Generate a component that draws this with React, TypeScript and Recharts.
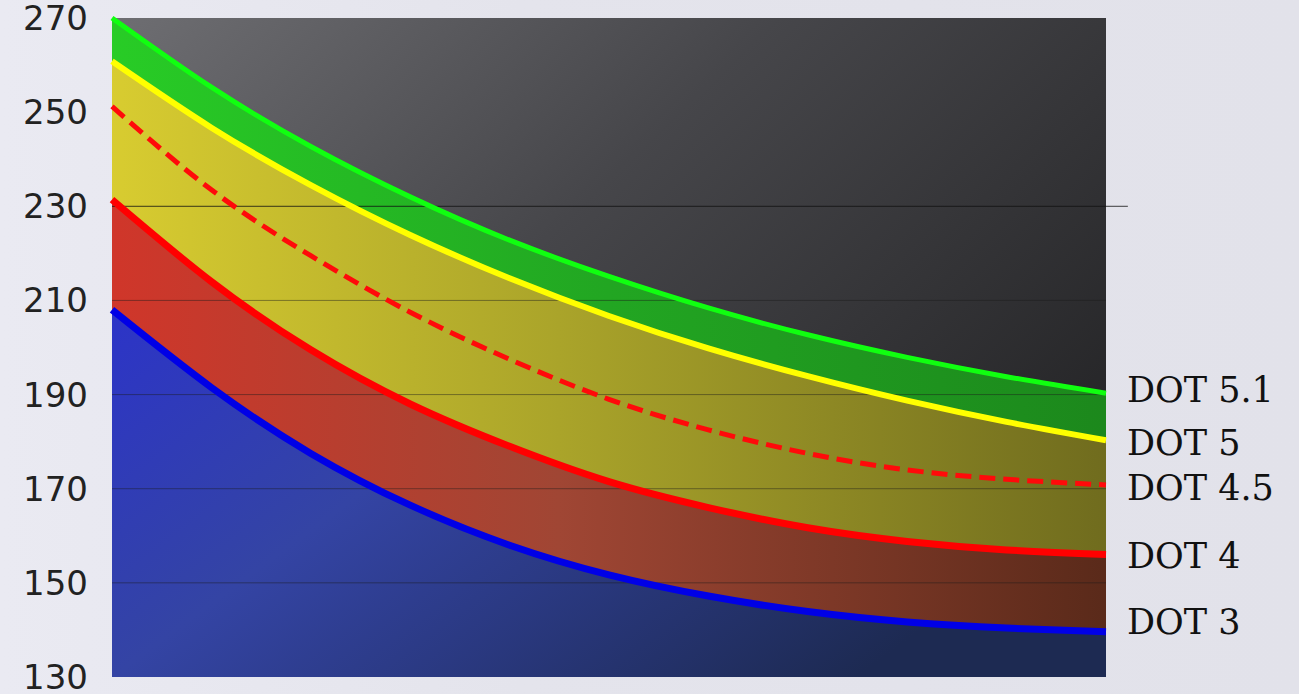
import React from "react";
import {
  ComposedChart,
  Area,
  Line,
  XAxis,
  YAxis,
  CartesianGrid,
  ReferenceLine,
} from "recharts";

const xs = [0, 1, 2, 3, 4, 5, 6, 7, 8, 9, 10];
const dot51 = [270, 255.3, 242.7, 232.0, 222.8, 215.1, 208.4, 202.7, 197.9, 193.8, 190.3];
const dot5 = [260.8, 246.7, 234.5, 223.9, 214.7, 206.7, 199.8, 193.9, 188.7, 184.2, 180.3];
const dot45 = [251.2, 233.5, 219.5, 207.5, 197.5, 189, 182.5, 177.5, 174, 172, 170.8];
const dot4 = [231.4, 214, 199.5, 188, 179, 171.5, 166, 161.7, 158.8, 157, 156];
const dot3 = [208, 191.5, 177.5, 166.5, 158, 151.7, 147.2, 143.9, 141.7, 140.4, 139.6];

const yTicks = [130, 150, 170, 190, 210, 230, 250, 270];
const gridValues = [150, 170, 190, 210];
const seriesLabels = ["DOT 5.1", "DOT 5", "DOT 4.5", "DOT 4", "DOT 3"];

const data = xs.map((x, i) => ({
  x,
  dot51: dot51[i],
  dot5: dot5[i],
  dot45: dot45[i],
  dot4: dot4[i],
  dot3: dot3[i],
}));

const lastIndex = xs.length - 1;

const makeEndLabel = (text: string, dy: number) => (props: any) => {
  const { x, y, index } = props;
  if (index !== lastIndex) return null;
  return (
    <text
      x={x + 21}
      y={y + dy}
      fill="#111"
      fontFamily="'DejaVu Serif', serif"
      fontSize={35}
      textAnchor="start"
      dominantBaseline="central"
    >
      {text}
    </text>
  );
};

export default function App() {
  return (
    <div
      style={{
        position: "absolute",
        left: 0,
        top: 0,
        width: 1299,
        height: 694,
        background: "linear-gradient(90deg, #eaeaf2 0%, #e4e4ec 40%, #e2e2ea 100%)",
        overflow: "hidden",
      }}
    >
      <ComposedChart
        width={1299}
        height={694}
        data={data}
        margin={{ top: 18, right: 193, bottom: 17, left: 0 }}
      >
        <defs>
          <linearGradient id="bgGrad" x1="0" y1="0" x2="1" y2="0.7">
            <stop offset="0%" stopColor="#6e6e72" />
            <stop offset="45%" stopColor="#46464a" />
            <stop offset="100%" stopColor="#232325" />
          </linearGradient>
          <linearGradient id="greenGrad" x1="0" y1="0" x2="1" y2="0">
            <stop offset="0%" stopColor="#28cc26" />
            <stop offset="50%" stopColor="#22a622" />
            <stop offset="100%" stopColor="#1c881c" />
          </linearGradient>
          <linearGradient id="yellowGrad" x1="0" y1="0" x2="1" y2="0">
            <stop offset="0%" stopColor="#d8cc30" />
            <stop offset="45%" stopColor="#aaa42a" />
            <stop offset="100%" stopColor="#706c1e" />
          </linearGradient>
          <linearGradient id="redGrad" x1="0" y1="0" x2="1" y2="0">
            <stop offset="0%" stopColor="#d0362a" />
            <stop offset="45%" stopColor="#a04634" />
            <stop offset="100%" stopColor="#5a2a1a" />
          </linearGradient>
          <linearGradient id="blueGrad" x1="0" y1="0" x2="1" y2="0.5">
            <stop offset="0%" stopColor="#2c34c8" />
            <stop offset="40%" stopColor="#3444a4" />
            <stop offset="100%" stopColor="#1d2a52" />
          </linearGradient>
        </defs>
        <CartesianGrid
          fill="url(#bgGrad)"
          stroke="none"
          horizontal={false}
          vertical={false}
        />
        <XAxis dataKey="x" type="number" domain={[0, 10]} hide />
        <YAxis
          type="number"
          domain={[130, 270]}
          ticks={yTicks}
          width={112}
          axisLine={false}
          tickLine={false}
          tickSize={0}
          tickMargin={24}
          tick={{ fill: "#222", fontSize: 34, fontFamily: "'DejaVu Sans', sans-serif" }}
          interval={0}
        />
        <Area
          type="natural"
          dataKey="dot51"
          stroke="none"
          fill="url(#greenGrad)"
          fillOpacity={1}
          baseValue={130}
          isAnimationActive={false}
        />
        <Area
          type="natural"
          dataKey="dot5"
          stroke="none"
          fill="url(#yellowGrad)"
          fillOpacity={1}
          baseValue={130}
          isAnimationActive={false}
        />
        <Area
          type="natural"
          dataKey="dot4"
          stroke="none"
          fill="url(#redGrad)"
          fillOpacity={1}
          baseValue={130}
          isAnimationActive={false}
        />
        <Area
          type="natural"
          dataKey="dot3"
          stroke="none"
          fill="url(#blueGrad)"
          fillOpacity={1}
          baseValue={130}
          isAnimationActive={false}
        />
        {gridValues.map((v) => (
          <ReferenceLine key={v} y={v} stroke="#1a1a1a" strokeOpacity={0.45} strokeWidth={1} />
        ))}
        <ReferenceLine
          segment={[
            { x: 0, y: 230 },
            { x: 10.22, y: 230 },
          ]}
          ifOverflow="visible"
          stroke="#111"
          strokeOpacity={0.8}
          strokeWidth={1}
        />
        <Line
          type="natural"
          dataKey="dot51"
          stroke="#10ff10"
          strokeWidth={5}
          dot={false}
          isAnimationActive={false}
          label={makeEndLabel(seriesLabels[0], -3)}
        />
        <Line
          type="natural"
          dataKey="dot5"
          stroke="#ffff00"
          strokeWidth={6}
          dot={false}
          isAnimationActive={false}
          label={makeEndLabel(seriesLabels[1], 3)}
        />
        <Line
          type="natural"
          dataKey="dot45"
          stroke="#ff0a0a"
          strokeWidth={5}
          strokeDasharray="16 8"
          dot={false}
          isAnimationActive={false}
          label={makeEndLabel(seriesLabels[2], 3)}
        />
        <Line
          type="natural"
          dataKey="dot4"
          stroke="#ff0000"
          strokeWidth={7}
          dot={false}
          isAnimationActive={false}
          label={makeEndLabel(seriesLabels[3], 1)}
        />
        <Line
          type="natural"
          dataKey="dot3"
          stroke="#0000e6"
          strokeWidth={7}
          dot={false}
          isAnimationActive={false}
          label={makeEndLabel(seriesLabels[4], -10)}
        />
      </ComposedChart>
    </div>
  );
}
